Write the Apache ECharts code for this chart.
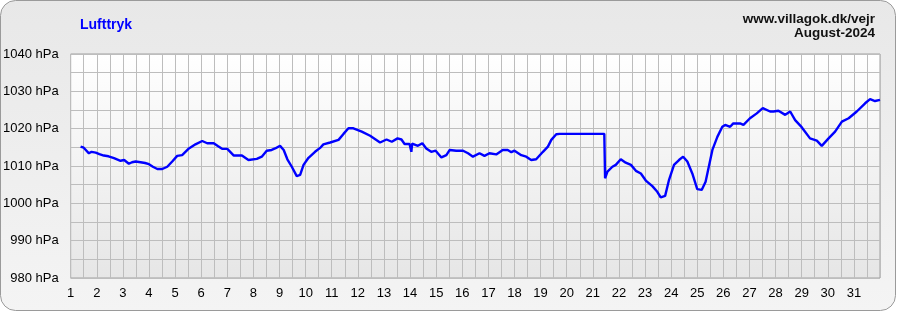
<!DOCTYPE html>
<html>
<head>
<meta charset="utf-8">
<script src="https://cdn.jsdelivr.net/npm/echarts@6/dist/echarts.min.js"></script>
<style>
html,body{margin:0;padding:0;background:#ffffff;}
#c{width:897px;height:312px;}
</style>
</head>
<body>
<div id="c"></div>
<script>
const title = 'Lufttryk';
const siteText = 'www.villagok.dk/vejr';
const monthText = 'August-2024';
const xTicks = [1,2,3,4,5,6,7,8,9,10,11,12,13,14,15,16,17,18,19,20,21,22,23,24,25,26,27,28,29,30,31];
const yTicks = [980,990,1000,1010,1020,1030,1040];
const day = [1.38,1.5,1.57,1.7,1.8,1.96,2.1,2.27,2.45,2.66,2.91,3.05,3.23,3.35,3.49,3.68,3.85,4.0,4.15,4.32,4.51,4.7,4.89,5.08,5.27,5.53,5.78,6.04,6.23,6.48,6.65,6.8,7.0,7.25,7.56,7.81,8.13,8.32,8.51,8.70,8.83,9.02,9.16,9.30,9.47,9.66,9.79,9.92,10.11,10.36,10.58,10.68,10.94,11.26,11.45,11.64,11.83,12.15,12.47,12.85,13.1,13.3,13.52,13.67,13.79,13.98,14.03,14.05,14.08,14.11,14.3,14.47,14.62,14.81,14.98,15.2,15.39,15.52,15.77,16.03,16.22,16.41,16.66,16.85,17.04,17.3,17.55,17.74,17.88,18.0,18.26,18.45,18.64,18.83,19.09,19.28,19.41,19.6,19.73,21.44,21.47,21.56,21.75,21.88,22.07,22.26,22.46,22.65,22.84,23.03,23.28,23.47,23.6,23.77,23.92,24.11,24.3,24.46,24.62,24.81,25.0,25.17,25.32,25.58,25.77,25.96,26.07,26.26,26.38,26.64,26.77,27.02,27.28,27.51,27.79,27.92,28.11,28.37,28.56,28.75,29.0,29.32,29.58,29.77,30.03,30.28,30.54,30.8,31.11,31.43,31.62,31.81,32.0];
const hPa = [1015.2,1014.9,1014.6,1013.4,1013.8,1013.6,1013.2,1012.8,1012.6,1012.1,1011.4,1011.6,1010.6,1011.0,1011.2,1011.0,1010.8,1010.5,1009.8,1009.2,1009.2,1009.8,1011.2,1012.7,1012.9,1014.7,1015.8,1016.7,1016.1,1016.1,1015.3,1014.6,1014.6,1012.8,1012.8,1011.6,1011.9,1012.5,1014.1,1014.3,1014.7,1015.4,1014.3,1011.8,1009.8,1007.3,1007.6,1010.3,1012.2,1013.8,1015.0,1015.8,1016.3,1017.0,1018.6,1020.1,1020.1,1019.2,1018.1,1016.3,1017.1,1016.5,1017.4,1017.1,1015.9,1015.9,1015.6,1013.8,1016.0,1016.1,1015.4,1016.1,1014.7,1013.8,1014.1,1012.3,1012.9,1014.3,1014.1,1014.1,1013.4,1012.5,1013.4,1012.7,1013.4,1013.1,1014.3,1014.3,1013.7,1014.1,1012.9,1012.5,1011.6,1011.8,1013.8,1015.2,1017.0,1018.5,1018.6,1018.6,1006.7,1008.5,1009.8,1010.3,1011.8,1010.9,1010.3,1008.7,1008.0,1006.1,1004.6,1003.1,1001.6,1002.0,1006.3,1010.3,1011.6,1012.5,1011.2,1008.0,1003.8,1003.6,1005.8,1014.3,1017.8,1020.5,1021.0,1020.5,1021.4,1021.4,1021.0,1022.8,1024.1,1025.5,1024.6,1024.6,1024.8,1023.7,1024.6,1022.3,1020.4,1017.4,1016.8,1015.4,1017.4,1019.2,1021.9,1022.8,1024.6,1026.8,1027.9,1027.4,1027.7];

const chart = echarts.init(document.getElementById('c'), null, {renderer:'canvas'});
const font = 'Arial, "Liberation Sans", sans-serif';
chart.setOption({
  animation: false,
  textStyle: {fontFamily: font},
  graphic: [
    {type:'rect', z:-10, shape:{x:0.5,y:0.5,width:895,height:310,r:15},
     style:{fill:new echarts.graphic.LinearGradient(0,0,0,1,[{offset:0,color:'#e8e8e8'},{offset:1,color:'#f4f4f4'}]), stroke:'#9a9a9a', lineWidth:1}},
    {type:'text', x:80, y:25, style:{text:title, fill:'#0000ff', font:'bold 14px ' + font, align:'left', verticalAlign:'middle'}},
    {type:'text', x:875, y:19, style:{text:siteText, fill:'#111', font:'bold 13.5px ' + font, align:'right', verticalAlign:'middle'}},
    {type:'text', x:875, y:33, style:{text:monthText, fill:'#111', font:'bold 13.5px ' + font, align:'right', verticalAlign:'middle'}}
  ],
  grid: {left:70, right:17, top:54, bottom:34, show:true, borderColor:'#a0a0a0', borderWidth:1,
    backgroundColor:new echarts.graphic.LinearGradient(0,0,0,1,[{offset:0,color:'#ffffff'},{offset:1,color:'#e6e6e6'}])},
  xAxis: {type:'value', min:1, max:32, interval:0.5,
    axisLine:{show:false}, axisTick:{show:false},
    splitLine:{show:true, lineStyle:{color:'#bdbdbd', width:1}},
    axisLabel:{color:'#000', fontSize:13, margin:9, fontFamily:font,
      formatter: v => (xTicks.indexOf(v) >= 0 ? String(v) : '')}},
  yAxis: {type:'value', min:980, max:1040, interval:5,
    axisLine:{show:false}, axisTick:{show:false},
    splitLine:{show:true, lineStyle:{color:'#bdbdbd', width:1}},
    axisLabel:{color:'#000', fontSize:13, margin:12, fontFamily:font,
      formatter: v => (yTicks.indexOf(v) >= 0 ? v + ' hPa' : '')}},
  series: [{type:'line', data: day.map((d,i)=>[d,hPa[i]]), showSymbol:false, symbol:'none',
    lineStyle:{color:'#0000ff', width:2.4}, z:5}]
});
</script>
</body>
</html>
